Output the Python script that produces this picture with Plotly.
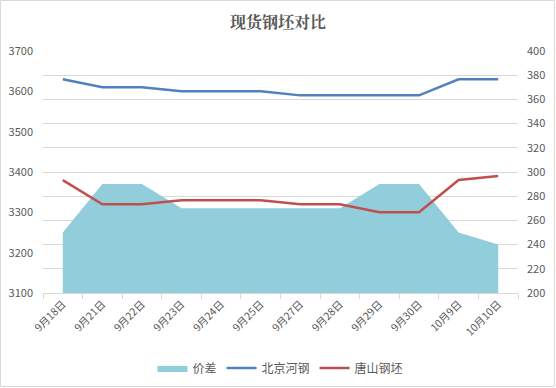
import plotly.graph_objects as go

categories = ["9月18日", "9月21日", "9月22日", "9月23日", "9月24日", "9月25日",
              "9月27日", "9月28日", "9月29日", "9月30日", "10月9日", "10月10日"]
beijing_hegang = [3630, 3610, 3610, 3600, 3600, 3600, 3590, 3590, 3590, 3590, 3630, 3630]
tangshan_gangpi = [3380, 3320, 3320, 3330, 3330, 3330, 3320, 3320, 3300, 3300, 3380, 3390]
jiacha = [250, 290, 290, 270, 270, 270, 270, 270, 290, 290, 250, 240]

W, H = 556, 388
ML, MR, MT, MB = 43, 38, 51, 95
PW, PH = W - ML - MR, H - MT - MB

txt = "#595959"
font_cjk = "Noto Sans CJK SC"

fig = go.Figure()
# area on primary (right-side) axis so the lines on the overlaying axis draw on top
fig.add_trace(go.Scatter(x=categories, y=jiacha, name="价差", yaxis="y",
                         mode="lines", line=dict(width=0, color="#92CDDC"),
                         fill="tozeroy", fillcolor="#92CDDC"))
fig.add_trace(go.Scatter(x=categories, y=beijing_hegang, name="北京河钢", yaxis="y2",
                         mode="lines", line=dict(color="#4F81BD", width=2.5)))
fig.add_trace(go.Scatter(x=categories, y=tangshan_gangpi, name="唐山钢坯", yaxis="y2",
                         mode="lines", line=dict(color="#C0504D", width=2.5)))

fig.update_layout(
    width=W, height=H,
    margin=dict(l=ML, r=MR, t=MT, b=MB, autoexpand=False),
    paper_bgcolor="white", plot_bgcolor="white",
    font=dict(family=font_cjk, color=txt, size=10),
    title=dict(text="<b>现货钢坯对比</b>", x=0.5, xanchor="center", y=1 - 22 / H,
               yanchor="middle", font=dict(size=16, color=txt, family="Noto Serif CJK SC, " + font_cjk)),
    xaxis=dict(type="category", range=[-0.5, 11.5], tickangle=-45, automargin=False,
               showline=True, linecolor="#D9D9D9", linewidth=1,
               ticks="outside", tickson="boundaries", ticklen=5, tickcolor="#D9D9D9",
               showgrid=False, tickfont=dict(size=10.5, color=txt)),
    yaxis=dict(range=[200, 400], dtick=20, side="right", showgrid=True, gridcolor="#D9D9D9",
               zeroline=False, showline=False, tickfont=dict(size=11, color=txt),
               ticks="", ticklabelstandoff=8, automargin=False),
    yaxis2=dict(range=[3100, 3700], dtick=100, overlaying="y", side="left",
                showgrid=False, zeroline=False, showline=False,
                tickfont=dict(size=11, color=txt), ticklabelstandoff=9, automargin=False),
    legend=dict(orientation="h", x=0.5, xanchor="center", y=(293 - 368) / PH,
                yanchor="middle", font=dict(size=12, color=txt), itemwidth=30,
                traceorder="normal"),
    showlegend=True,
)

fig.add_shape(type="rect", xref="paper", yref="paper",
              x0=-(ML - 0.5) / PW, x1=1 + (MR - 1.5) / PW,
              y0=-(MB - 1.5) / PH, y1=1 + (MT - 0.5) / PH,
              line=dict(color="#D9D9D9", width=1), layer="below")

fig.write_html("out.html", config={"displayModeBar": False},
               post_script="document.body.style.margin='0';document.body.style.overflow='hidden';")
